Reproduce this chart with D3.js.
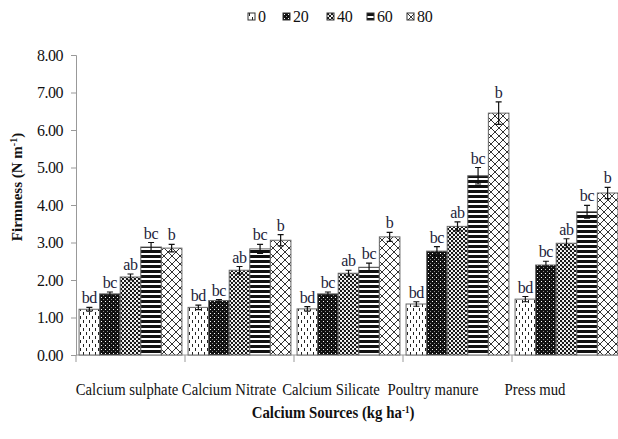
<!DOCTYPE html>
<html>
<head>
<meta charset="utf-8">
<script src="https://cdn.jsdelivr.net/npm/d3@7"></script>
<style>
  html, body { margin: 0; padding: 0; background: #fff; }
  svg { display: block; }
  svg text { font-family: "Liberation Serif", "Times New Roman", "DejaVu Serif", serif !important; }
</style>
</head>
<body>
<svg id="chart" width="618" height="439"></svg>
<script>
// Calcium sources and applied rates
const categories = ["Calcium sulphate", "Calcium Nitrate", "Calcium Silicate", "Poultry manure", "Press mud"];
const rates = ["0", "20", "40", "60", "80"];

// Firmness (N m-1) per rate, one array per rate, ordered like categories
const rate0  = [1.22, 1.27, 1.23, 1.36, 1.49];
const rate20 = [1.63, 1.45, 1.63, 2.77, 2.40];
const rate40 = [2.08, 2.26, 2.18, 3.43, 2.98];
const rate60 = [2.88, 2.83, 2.34, 4.78, 3.82];
const rate80 = [2.85, 3.06, 3.15, 6.45, 4.32];

// Standard errors
const err0  = [0.05, 0.06, 0.06, 0.06, 0.07];
const err20 = [0.05, 0.03, 0.05, 0.12, 0.10];
const err40 = [0.08, 0.10, 0.08, 0.12, 0.12];
const err60 = [0.12, 0.12, 0.11, 0.22, 0.17];
const err80 = [0.10, 0.15, 0.12, 0.30, 0.15];

// Significance letters
const letters0  = ["bd", "bd", "bd", "bd", "bd"];
const letters20 = ["bc", "bc", "bc", "bc", "bc"];
const letters40 = ["ab", "ab", "ab", "ab", "ab"];
const letters60 = ["bc", "bc", "bc", "bc", "bc"];
const letters80 = ["b", "b", "b", "b", "b"];

const yTicks = [0, 1, 2, 3, 4, 5, 6, 7, 8];

const values = [rate0, rate20, rate40, rate60, rate80];
const errors = [err0, err20, err40, err60, err80];
const letters = [letters0, letters20, letters40, letters60, letters80];

const FONT = '"Liberation Serif", "Times New Roman", "DejaVu Serif", serif';
const svg = d3.select("#chart");
const plotLeft = 76, plotRight = 621, plotTop = 55, plotBottom = 355;

const x = d3.scaleBand().domain(categories).range([plotLeft, plotRight]).padding(0);
const xInner = d3.scaleBand().domain(rates).range([0, x.bandwidth()]).paddingOuter(0.1493).paddingInner(0);
const xLabel = d3.scaleBand().domain(categories).range([plotLeft, plotLeft + 510]);
const y = d3.scaleLinear().domain([0, 8]).range([plotBottom, plotTop]);

// Fill patterns for each rate
const defs = svg.append("defs");
function pat(id, w, h) {
  return defs.append("pattern").attr("id", id).attr("patternUnits", "userSpaceOnUse")
    .attr("width", w).attr("height", h);
}
// 0: white with scattered vertical dashes
let p = pat("p0", 6, 8);
p.append("rect").attr("width", 6).attr("height", 8).attr("fill", "#fff");
p.append("line").attr("x1", 1.5).attr("x2", 1.5).attr("y1", 0).attr("y2", 3).attr("stroke", "#222").attr("stroke-width", 1);
p.append("line").attr("x1", 4.5).attr("x2", 4.5).attr("y1", 4).attr("y2", 7).attr("stroke", "#222").attr("stroke-width", 1);
// 20: dark with small white dots
p = pat("p20", 4, 4);
p.append("rect").attr("width", 4).attr("height", 4).attr("fill", "#111");
p.append("rect").attr("x", 1).attr("y", 1).attr("width", 1).attr("height", 1).attr("fill", "#fff");
p.append("rect").attr("x", 3).attr("y", 3).attr("width", 1).attr("height", 1).attr("fill", "#888");
// 40: white with black dots
p = pat("p40", 4, 4);
p.append("rect").attr("width", 4).attr("height", 4).attr("fill", "#fff");
p.append("circle").attr("cx", 1).attr("cy", 1).attr("r", 1.2).attr("fill", "#111");
p.append("circle").attr("cx", 3).attr("cy", 3).attr("r", 1.2).attr("fill", "#111");
// 60: horizontal stripes
p = pat("p60", 4, 5);
p.append("rect").attr("width", 4).attr("height", 5).attr("fill", "#fff");
p.append("rect").attr("y", 0).attr("width", 4).attr("height", 3).attr("fill", "#111");
// 80: diagonal cross-hatch
p = pat("p80", 8, 8);
p.append("rect").attr("width", 8).attr("height", 8).attr("fill", "#fff");
p.append("path").attr("d", "M0,0L8,8M8,0L0,8").attr("stroke", "#333").attr("stroke-width", 1);

const fills = rates.map(r => `url(#p${r})`);

// Y axis
const yAxis = d3.axisLeft(y).tickValues(yTicks).tickFormat(d3.format(".2f")).tickSizeOuter(0).tickSize(5).tickPadding(8);
const gy = svg.append("g").attr("transform", `translate(${plotLeft},0)`).call(yAxis)
  .attr("font-family", FONT);
gy.select(".domain").attr("stroke", "#999");
gy.selectAll(".tick line").attr("stroke", "#999");
gy.selectAll(".tick text").attr("font-size", 16).attr("fill", "#111")
  .attr("letter-spacing", -0.5).style("font-family", FONT);

// X axis
const boundaries = categories.map(c => x(c)).concat([plotRight]);
svg.append("line").attr("x1", plotLeft).attr("x2", plotRight).attr("y1", plotBottom).attr("y2", plotBottom).attr("stroke", "#999");
svg.selectAll(".xtick").data(boundaries).join("line").attr("class", "xtick")
  .attr("x1", d => d).attr("x2", d => d).attr("y1", plotBottom).attr("y2", plotBottom + 7).attr("stroke", "#999");

svg.selectAll(".xlab").data(categories).join("text").attr("class", "xlab")
  .attr("transform", d => `translate(${xLabel(d) + xLabel.bandwidth() / 2},395) scale(0.92,1)`)
  .attr("text-anchor", "middle").attr("font-size", 16).attr("fill", "#111")
  .style("font-family", FONT).text(d => d);

// Bars
const groups = svg.selectAll(".grp").data(categories).join("g").attr("class", "grp")
  .attr("transform", d => `translate(${x(d)},0)`);

rates.forEach((r, ri) => {
  groups.append("rect")
    .attr("x", xInner(r)).attr("width", xInner.bandwidth())
    .attr("y", (d, ci) => y(values[ri][ci]))
    .attr("height", (d, ci) => y(0) - y(values[ri][ci]))
    .attr("fill", fills[ri]).attr("stroke", "#666").attr("stroke-width", 1);
});

// Error bars and letters
rates.forEach((r, ri) => {
  const cx = xInner(r) + xInner.bandwidth() / 2;
  groups.append("path")
    .attr("d", (d, ci) => {
      const hi = y(values[ri][ci] + errors[ri][ci]);
      const lo = y(values[ri][ci] - errors[ri][ci]);
      return `M${cx - 3},${hi}H${cx + 3}M${cx},${hi}V${lo}M${cx - 3},${lo}H${cx + 3}`;
    })
    .attr("stroke", "#111").attr("stroke-width", 1.2).attr("fill", "none");
  groups.append("text")
    .attr("x", cx)
    .attr("y", (d, ci) => y(values[ri][ci] + errors[ri][ci]) - 4)
    .attr("text-anchor", "middle").attr("font-size", 16).attr("fill", "#1c1c3a")
    .attr("letter-spacing", -0.3)
    .style("font-family", FONT)
    .text((d, ci) => letters[ri][ci]);
});

// Legend
const legendX = [248, 283, 327, 367, 407];
const lg = svg.selectAll(".lg").data(rates).join("g").attr("class", "lg")
  .attr("transform", (d, i) => `translate(${legendX[i]},13)`);
lg.append("rect").attr("width", 7).attr("height", 7).attr("fill", (d, i) => fills[i])
  .attr("stroke", "#333").attr("stroke-width", 1);
lg.append("text").attr("x", 10).attr("y", 9).attr("font-size", 16).attr("fill", "#111")
  .attr("letter-spacing", -0.3)
  .style("font-family", FONT).text(d => d);

// Axis titles
svg.append("text").attr("transform", "translate(22,187) rotate(-90)")
  .attr("text-anchor", "middle").attr("font-size", 15).attr("font-weight", "bold").attr("fill", "#111")
  .style("font-family", FONT)
  .html('Firmness (N m<tspan dy="-5" font-size="10">-1</tspan><tspan dy="5">)</tspan>');
svg.append("text").attr("transform", "translate(333,418) scale(0.9,1)")
  .attr("text-anchor", "middle").attr("font-size", 16.5).attr("font-weight", "bold").attr("fill", "#111")
  .style("font-family", FONT)
  .html('Calcium Sources (kg ha<tspan dy="-5" font-size="10">-1</tspan><tspan dy="5">)</tspan>');
</script>
</body>
</html>
